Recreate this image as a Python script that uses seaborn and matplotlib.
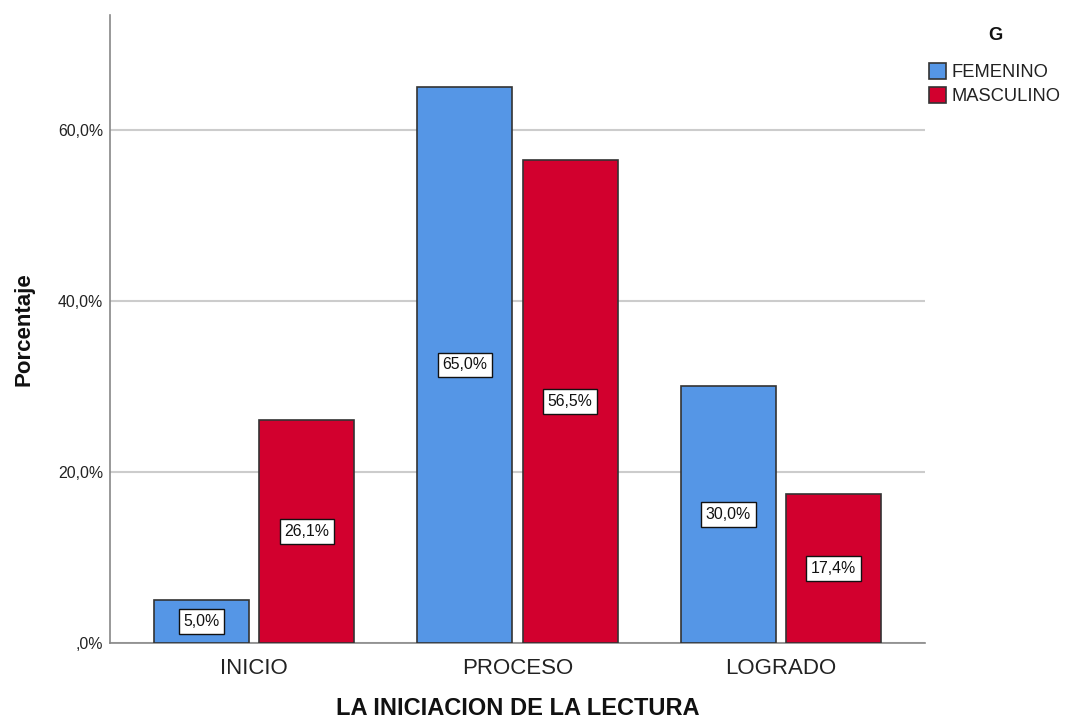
"""Bar chart: La iniciacion de la lectura por genero (porcentaje)."""

import numpy as np
import pandas as pd
import seaborn as sns
from matplotlib import pyplot as plt

# data
categories = ["INICIO", "PROCESO", "LOGRADO"]
genders = ["FEMENINO", "MASCULINO"]
femenino = [5.0, 65.0, 30.0]
masculino = [26.1, 56.5, 17.4]
y_ticks = [0, 20, 40, 60]
y_tick_labels = [",0%", "20,0%", "40,0%", "60,0%"]
colors = ["#5596E6", "#D2002E"]

df = pd.DataFrame({
    "cat": categories * 2,
    "G": [genders[0]] * 3 + [genders[1]] * 3,
    "pct": femenino + masculino,
})

sns.set_theme(style="white")
plt.rcParams["font.family"] = ["Liberation Sans", "DejaVu Sans"]

fig = plt.figure(figsize=(10.66, 7.23), dpi=100)
ax = fig.add_axes([110 / 1066, 1 - 643 / 723, 815 / 1066, 628 / 723])

sns.barplot(data=df, x="cat", y="pct", hue="G", order=categories, hue_order=genders,
            palette=colors, width=0.8, gap=0.1, edgecolor="#333333", linewidth=1.2,
            saturation=1, ax=ax, zorder=3)

# value labels in the middle of each bar
for cont in ax.containers:
    for bar in cont:
        h = bar.get_height()
        ax.text(bar.get_x() + bar.get_width() / 2, h / 2, f"{h:.1f}%".replace(".", ","),
                ha="center", va="center", fontsize=11.4, color="#111111", zorder=5,
                bbox=dict(boxstyle="square,pad=0.3", fc="white", ec="#111111", lw=1))

ax.set_xlim(-0.547, 2.547)
ax.set_ylim(0, 73.4)
ax.set_yticks(y_ticks, y_tick_labels)
ax.tick_params(axis="y", labelsize=11.4, length=0, pad=5, colors="#222222")
ax.tick_params(axis="x", labelsize=16, length=0, pad=11, colors="#222222")
ax.grid(axis="y", color="#cccccc", linewidth=1.5, zorder=0)
ax.set_axisbelow(True)
for s in ["top", "right"]:
    ax.spines[s].set_visible(False)
for s in ["left", "bottom"]:
    ax.spines[s].set_color("#888888")
    ax.spines[s].set_linewidth(1.2)

ax.set_xlabel("LA INICIACION DE LA LECTURA", fontsize=17, fontweight="bold",
              labelpad=13, color="#111111")
ax.set_ylabel("Porcentaje", fontsize=16, fontweight="bold", labelpad=17, color="#111111")

sns.move_legend(ax, loc="upper left", bbox_to_anchor=(929 / 1066, 1 - 63 / 723),
                bbox_transform=fig.transFigure, title=None, frameon=False,
                fontsize=13.2, borderpad=0, borderaxespad=0, handlelength=0.95,
                handleheight=1.0, handletextpad=0.3, labelspacing=0.3)
for p in ax.get_legend().get_patches():
    p.set_edgecolor("#333333")
for t in ax.get_legend().get_texts():
    t.set_color("#222222")
fig.text(995 / 1066, 1 - 35 / 723, "G", fontsize=13.2, fontweight="bold",
         ha="center", va="center", color="#111111")

fig.savefig("out.png", dpi=100)
